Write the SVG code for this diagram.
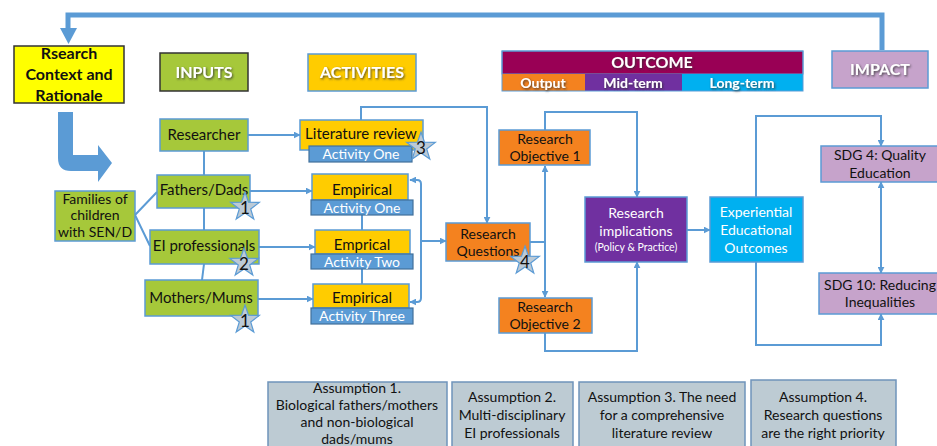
<svg xmlns="http://www.w3.org/2000/svg" width="937" height="446" viewBox="0 0 937 446">
  <defs>
    <marker id="arr" viewBox="0 0 10 10" refX="9" refY="5" markerWidth="7" markerHeight="7" markerUnits="userSpaceOnUse" orient="auto-start-reverse">
      <path d="M0,0 L10,5 L0,10 Z" fill="#5B9BD5"/>
    </marker>
    <filter id="sh" x="-10%" y="-20%" width="130%" height="160%">
      <feDropShadow dx="1" dy="1.3" stdDeviation="0.8" flood-color="#333" flood-opacity="0.85"/>
    </filter>
    <polygon id="star" points="0,-15 3.5,-4.8 14.3,-4.6 5.7,1.9 8.8,12.1 0,6 -8.8,12.1 -5.7,1.9 -14.3,-4.6 -3.5,-4.8" />
  </defs>
  <style>
    text { font-family: Lato, "Liberation Sans", sans-serif; text-anchor: middle; }
    .n { font-size: 15px; fill: #111; }
    .w { font-size: 15px; fill: #fff; }
    .hd { font-size: 16px; font-weight: bold; fill: #fff; filter: url(#sh); }
    .sub { font-size: 14px; fill: #fff; }
    .green { fill: #A6C83A; stroke: #5B9BD5; stroke-width: 1.5; }
    .yel { fill: #FFCC00; stroke: #5B9BD5; stroke-width: 1.5; }
    .blu { fill: #5B9BD5; stroke: #41719C; stroke-width: 1.2; }
    .org { fill: #F4821F; stroke: #5B9BD5; stroke-width: 1.5; }
    .lil { fill: #C6A3CB; stroke: #5B9BD5; stroke-width: 1.5; }
    .asm { fill: #BDCBD3; stroke: #6F94BB; stroke-width: 1.5; }
    .asmt { font-size: 14px; fill: #111; }
    .st { fill: #BCCAD6; stroke: #5B9BD5; stroke-width: 1.2; }
    .num { font-size: 17px; fill: #111; }
    .c { fill: none; stroke: #5B9BD5; stroke-width: 2; }
  </style>
  <rect width="937" height="446" fill="#fff"/>

  <!-- connectors -->
  <g id="connectors">
    <!-- feedback loop from impact back to the rationale -->
    <path d="M882,50 V15 H68 V30" fill="none" stroke="#5B9BD5" stroke-width="5"/>
    <polygon points="60,28 77,28 68.5,44" fill="#5B9BD5"/>
    <!-- bent arrow from rationale to the families -->
    <path d="M58,112 H73 V155 H98 V145 L112,163 L98,182 V171 H71 Q58,171 58,158 Z" fill="#5B9BD5"/>
    <!-- families to inputs -->
    <path class="c" d="M135,215 L157,192 M135,215 L150,246"/>
    <!-- input chain -->
    <path class="c" d="M204,151 V175 M204,208 V230 M204,264 L202,280"/>
    <!-- inputs to activities -->
    <path class="c" d="M248,135 H300" marker-end="url(#arr)"/>
    <path class="c" d="M250,191 H312" marker-end="url(#arr)"/>
    <path class="c" d="M259,247 H315" marker-end="url(#arr)"/>
    <path class="c" d="M258,299 H313" marker-end="url(#arr)"/>
    <!-- activity chain -->
    <path class="c" d="M362,215 V230 M362,269 V284"/>
    <!-- bracket to research questions -->
    <path class="c" d="M410,180 H417 Q421,180 421,184 V298 Q421,302 417,302 H410" marker-start="url(#arr)" marker-end="url(#arr)"/>
    <path class="c" d="M421,241 H446" marker-end="url(#arr)"/>
    <!-- literature review to research questions -->
    <path class="c" d="M361,120 V107 H487 V223" marker-end="url(#arr)"/>
    <!-- research questions to objectives -->
    <path class="c" d="M530,242 H545"/>
    <path class="c" d="M545,166 V297" marker-start="url(#arr)" marker-end="url(#arr)"/>
    <!-- objectives to implications -->
    <path class="c" d="M545,130 V112 H637 V197" marker-end="url(#arr)"/>
    <path class="c" d="M545,333 V351 H637 V262" marker-end="url(#arr)"/>
    <!-- implications to outcomes -->
    <path class="c" d="M687,230 H710" marker-end="url(#arr)"/>
    <!-- outcomes to SDGs -->
    <path class="c" d="M756,197 V116 H881 V146" marker-end="url(#arr)"/>
    <path class="c" d="M756,262 V345 H881 V314" marker-end="url(#arr)"/>
    <path class="c" d="M881,182 V273" marker-start="url(#arr)" marker-end="url(#arr)"/>
  </g>

  <!-- column headers -->
  <g id="rationale">
    <rect x="14" y="46" width="110" height="57" fill="#FFFF00" stroke="#333" stroke-width="1.5"/>
    <text x="69" y="59" style="font-size:16px;font-weight:bold;fill:#111">Rsearch</text>
    <text x="69" y="80" style="font-size:16px;font-weight:bold;fill:#111">Context and</text>
    <text x="69" y="101" style="font-size:16px;font-weight:bold;fill:#111">Rationale</text>
  </g>
  <g id="inputs-header">
    <rect x="160" y="53" width="88" height="38" fill="#A6C83A" stroke="#333" stroke-width="1.5"/>
    <text class="hd" x="204" y="78">INPUTS</text>
  </g>
  <g id="activities-header">
    <rect x="308" y="54" width="108" height="37" fill="#FFCC00" stroke="#5B9BD5" stroke-width="1.5"/>
    <text class="hd" x="362" y="78">ACTIVITIES</text>
  </g>
  <g id="outcome-header">
    <rect x="502" y="51" width="301" height="23" fill="#990055" stroke="#5B9BD5" stroke-width="1"/>
    <rect x="502" y="74" width="83" height="17" fill="#F4821F"/>
    <rect x="585" y="74" width="97" height="17" fill="#7030A0"/>
    <rect x="682" y="74" width="121" height="17" fill="#00B0F0"/>
    <rect x="502" y="51" width="301" height="40" fill="none" stroke="#5B9BD5" stroke-width="1"/>
    <text class="hd" x="652" y="68">OUTCOME</text>
    <text class="hd" x="543" y="88" style="font-size:14px">Output</text>
    <text class="hd" x="633" y="88" style="font-size:14px">Mid-term</text>
    <text class="hd" x="742" y="88" style="font-size:14px">Long-term</text>
  </g>
  <g id="impact-header">
    <rect x="832" y="51" width="96" height="37" class="lil"/>
    <text class="hd" x="880" y="75">IMPACT</text>
  </g>

  <!-- inputs -->
  <g id="families">
    <rect x="55" y="191" width="80" height="50" class="green"/>
    <text class="n" x="95" y="204" style="font-size:14px">Families of</text>
    <text class="n" x="95" y="220" style="font-size:14px">children</text>
    <text class="n" x="95" y="237" style="font-size:14px">with SEN/D</text>
  </g>
  <g id="researcher">
    <rect x="160" y="119" width="88" height="32" class="green"/>
    <text class="n" x="204" y="140">Researcher</text>
  </g>
  <g id="fathers">
    <rect x="157" y="175" width="93" height="33" class="green"/>
    <text class="n" x="204" y="195">Fathers/Dads</text>
    <use href="#star" x="245" y="207" class="st"/>
    <text class="num" x="245" y="214">1</text>
  </g>
  <g id="ei-professionals">
    <rect x="150" y="230" width="109" height="34" class="green"/>
    <text class="n" x="204" y="251">EI professionals</text>
    <use href="#star" x="244" y="263" class="st"/>
    <text class="num" x="244" y="270">2</text>
  </g>
  <g id="mothers">
    <rect x="145" y="280" width="113" height="36" class="green"/>
    <text class="n" x="201" y="303">Mothers/Mums</text>
    <use href="#star" x="245" y="320" class="st"/>
    <text class="num" x="245" y="327">1</text>
  </g>

  <!-- activities -->
  <g id="literature-review">
    <rect x="300" y="120" width="123" height="30" class="yel"/>
    <text class="n" x="361" y="139">Literature review</text>
    <rect x="309" y="146" width="103" height="16" class="blu"/>
    <text class="sub" x="361" y="159">Activity One</text>
    <use href="#star" x="421" y="147" class="st"/>
    <text class="num" x="421" y="154">3</text>
  </g>
  <g id="empirical-one">
    <rect x="312" y="174" width="96" height="26" class="yel"/>
    <text class="n" x="362" y="195">Empirical</text>
    <rect x="311" y="200" width="102" height="15" class="blu"/>
    <text class="sub" x="362" y="213">Activity One</text>
  </g>
  <g id="empirical-two">
    <rect x="315" y="230" width="95" height="24" class="yel"/>
    <text class="n" x="362" y="250">Emprical</text>
    <rect x="311" y="254" width="102" height="15" class="blu"/>
    <text class="sub" x="362" y="267">Activity Two</text>
  </g>
  <g id="empirical-three">
    <rect x="313" y="284" width="96" height="24" class="yel"/>
    <text class="n" x="362" y="303">Empirical</text>
    <rect x="311" y="308" width="102" height="16" class="blu"/>
    <text class="sub" x="362" y="321">Activity Three</text>
  </g>

  <!-- outcomes -->
  <g id="research-questions">
    <rect x="446" y="223" width="84" height="38" class="org"/>
    <text class="n" x="488" y="239" style="font-size:14px">Research</text>
    <text class="n" x="488" y="256" style="font-size:14px">Questions</text>
    <use href="#star" x="525" y="261" class="st"/>
    <text class="num" x="525" y="268">4</text>
  </g>
  <g id="objective-1">
    <rect x="499" y="130" width="91" height="35" class="org"/>
    <text class="n" x="545" y="144" style="font-size:14px">Research</text>
    <text class="n" x="545" y="161" style="font-size:14px">Objective 1</text>
  </g>
  <g id="objective-2">
    <rect x="499" y="298" width="93" height="35" class="org"/>
    <text class="n" x="545" y="312" style="font-size:14px">Research</text>
    <text class="n" x="545" y="329" style="font-size:14px">Objective 2</text>
  </g>
  <g id="implications">
    <rect x="585" y="197" width="102" height="65" fill="#7030A0" stroke="#5B9BD5" stroke-width="1.5"/>
    <text class="w" x="636" y="218" style="font-size:14px">Research</text>
    <text class="w" x="636" y="236" style="font-size:14px">implications</text>
    <text class="w" x="636" y="251" style="font-size:10.5px">(Policy &amp; Practice)</text>
  </g>
  <g id="educational-outcomes">
    <rect x="710" y="197" width="93" height="65" fill="#00B0F0" stroke="#5B9BD5" stroke-width="1.5"/>
    <text class="w" x="756" y="217" style="font-size:14px">Experiential</text>
    <text class="w" x="756" y="235" style="font-size:14px">Educational</text>
    <text class="w" x="756" y="253" style="font-size:14px">Outcomes</text>
  </g>

  <!-- impact -->
  <g id="sdg-4">
    <rect x="821" y="146" width="120" height="36" class="lil"/>
    <text class="n" x="880" y="160" style="font-size:14px">SDG 4: Quality</text>
    <text class="n" x="880" y="178" style="font-size:14px">Education</text>
  </g>
  <g id="sdg-10">
    <rect x="819" y="273" width="122" height="41" class="lil"/>
    <text class="n" x="880" y="290" style="font-size:14px">SDG 10: Reducing</text>
    <text class="n" x="880" y="307" style="font-size:14px">Inequalities</text>
  </g>

  <!-- assumptions -->
  <g id="assumption-1">
    <rect x="268" y="382" width="179" height="70" class="asm"/>
    <text class="asmt" x="357" y="393">Assumption 1.</text>
    <text class="asmt" x="357" y="410">Biological fathers/mothers</text>
    <text class="asmt" x="357" y="427">and non-biological</text>
    <text class="asmt" x="357" y="444">dads/mums</text>
  </g>
  <g id="assumption-2">
    <rect x="452" y="382" width="121" height="70" class="asm"/>
    <text class="asmt" x="512" y="402">Assumption 2.</text>
    <text class="asmt" x="512" y="420">Multi-disciplinary</text>
    <text class="asmt" x="512" y="438">EI professionals</text>
  </g>
  <g id="assumption-3">
    <rect x="579" y="382" width="166" height="70" class="asm"/>
    <text class="asmt" x="662" y="402">Assumption 3. The need</text>
    <text class="asmt" x="662" y="420">for a comprehensive</text>
    <text class="asmt" x="662" y="438">literature review</text>
  </g>
  <g id="assumption-4">
    <rect x="751" y="380" width="145" height="72" class="asm"/>
    <text class="asmt" x="823" y="402">Assumption 4.</text>
    <text class="asmt" x="823" y="420">Research questions</text>
    <text class="asmt" x="823" y="438">are the right priority</text>
  </g>
</svg>
